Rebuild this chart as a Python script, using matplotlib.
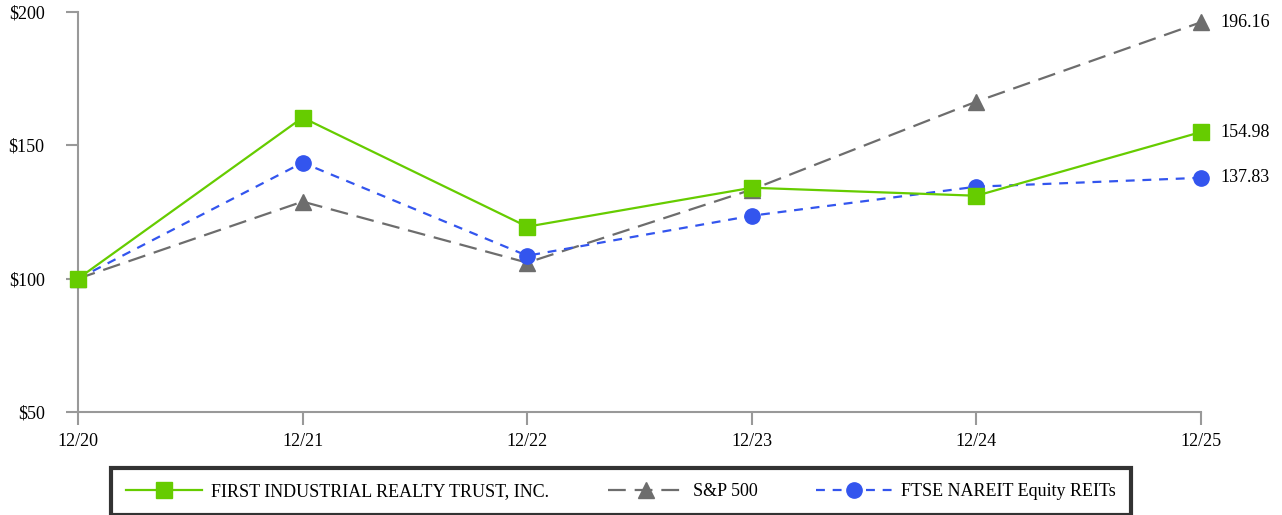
import matplotlib.pyplot as plt

plt.rcParams['font.family'] = ['Liberation Serif', 'DejaVu Serif']

years = ['12/20', '12/21', '12/22', '12/23', '12/24', '12/25']
fr = [100, 160.4, 119.5, 134.1, 131.1, 154.98]
sp500 = [100, 128.9, 106.0, 133.4, 166.4, 196.16]
nareit = [100, 143.5, 108.6, 123.6, 134.5, 137.83]

green = '#66cc00'
grey = '#6d6d6d'
blue = '#3355ee'

fig = plt.figure(figsize=(12.82, 5.15), dpi=100)
ax = fig.add_axes([78/1282, 1 - 412/515, (1201-78)/1282, 400/515])

x = range(len(years))
ax.plot(x, sp500, color=grey, lw=1.6, dashes=(8, 4), marker='^', ms=11,
        label='S&P 500', zorder=3)
ax.plot(x, nareit, color=blue, lw=1.6, dashes=(4, 3.5), marker='o', ms=11,
        label='FTSE NAREIT Equity REITs', zorder=4)
ax.plot(x, fr, color=green, lw=1.6, marker='s', ms=11,
        label='FIRST INDUSTRIAL REALTY TRUST, INC.', zorder=5)

for vals in (fr, sp500, nareit):
    ax.annotate(f'{vals[-1]:.2f}', (x[-1], vals[-1]), xytext=(14, 0),
                textcoords='offset points', va='center', ha='left', fontsize=13)

ax.set_xlim(0, len(years) - 1)
ax.set_ylim(50, 200)
ax.set_xticks(list(x))
ax.set_xticklabels(years)
ax.set_yticks([50, 100, 150, 200])
ax.set_yticklabels(['$50', '$100', '$150', '$200'])
for s in ('top', 'right'):
    ax.spines[s].set_visible(False)
for s in ('left', 'bottom'):
    ax.spines[s].set_color('#999999')
    ax.spines[s].set_linewidth(1.5)
ax.tick_params(axis='both', colors='#999999', width=1.5, length=9,
               labelcolor='black', labelsize=13)
ax.tick_params(axis='x', pad=6)
ax.tick_params(axis='y', pad=15)
for line in ax.lines:
    line.set_clip_on(False)

handles, labels = ax.get_legend_handles_labels()
order = [2, 0, 1]
leg = fig.legend([handles[i] for i in order], [labels[i] for i in order],
                 loc='center', bbox_to_anchor=(621/1282, 1 - 491.5/515), ncol=3,
                 frameon=True, fancybox=False, fontsize=13, handlelength=4.2,
                 columnspacing=3.25, borderpad=0.85, handletextpad=0.5)
leg.get_frame().set_edgecolor('black')
leg.get_frame().set_linewidth(3)

fig.savefig('out.png', dpi=100)
